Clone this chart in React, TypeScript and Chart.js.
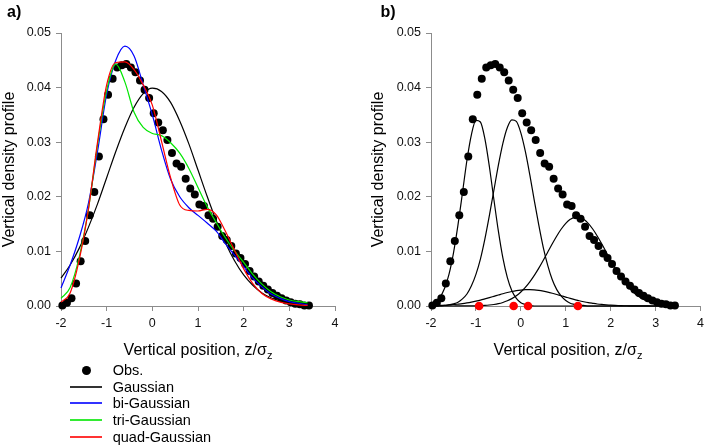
import React, { useEffect, useRef } from "react";
import { Chart, registerables } from "chart.js";

Chart.register(...registerables);

const FONT = '"Liberation Sans", Arial, Helvetica, sans-serif';

// Observations (same in both panels)
const obsX = [-1.97, -1.87, -1.77, -1.67, -1.57, -1.47, -1.37, -1.27, -1.17, -1.07, -0.97, -0.87, -0.77, -0.67, -0.57, -0.47, -0.37, -0.27, -0.17, -0.07, 0.03, 0.13, 0.23, 0.33, 0.43, 0.53, 0.63, 0.73, 0.83, 0.93, 1.03, 1.13, 1.23, 1.33, 1.43, 1.53, 1.63, 1.73, 1.83, 1.93, 2.03, 2.13, 2.23, 2.33, 2.43, 2.53, 2.63, 2.73, 2.83, 2.93, 3.03, 3.13, 3.23, 3.33, 3.43];
const obsY = [0.0001, 0.0006, 0.0014, 0.0041, 0.0082, 0.0119, 0.0166, 0.0209, 0.0274, 0.0342, 0.0387, 0.0416, 0.0437, 0.0441, 0.0443, 0.0437, 0.0428, 0.0413, 0.0396, 0.0381, 0.0353, 0.0336, 0.0322, 0.0304, 0.0280, 0.0261, 0.0255, 0.0233, 0.0215, 0.0204, 0.0186, 0.0183, 0.0166, 0.0160, 0.0145, 0.0128, 0.0121, 0.0110, 0.0096, 0.0088, 0.0077, 0.0064, 0.0054, 0.0045, 0.0037, 0.0030, 0.0024, 0.0019, 0.0014, 0.0010, 0.0007, 0.0004, 0.0003, 0.0001, 0.0001];

// Panel a: fitted curves
const fitX = [-2.0, -1.8, -1.6, -1.4, -1.2, -1.0, -0.8, -0.6, -0.4, -0.2, 0.0, 0.2, 0.4, 0.6, 0.8, 1.0, 1.2, 1.4, 1.6, 1.8, 2.0, 2.2, 2.4, 2.6, 2.8, 3.0, 3.2, 3.4];
const gaussY = [0.0051, 0.0075, 0.0106, 0.0144, 0.0187, 0.0235, 0.0283, 0.0327, 0.0364, 0.0389, 0.0399, 0.0393, 0.0373, 0.0339, 0.0297, 0.0249, 0.0201, 0.0156, 0.0116, 0.0083, 0.0057, 0.0038, 0.0024, 0.0015, 0.0009, 0.0005, 0.0003, 0.0001];
const biGaussY = [0.0033, 0.0075, 0.0125, 0.0188, 0.0283, 0.0388, 0.0450, 0.0476, 0.0458, 0.0405, 0.0350, 0.0286, 0.0232, 0.0200, 0.0180, 0.0166, 0.0152, 0.0137, 0.0114, 0.0093, 0.0072, 0.0051, 0.0035, 0.0022, 0.0014, 0.0008, 0.0005, 0.0002];
const triGaussY = [0.0014, 0.0034, 0.0090, 0.0177, 0.0295, 0.0395, 0.0443, 0.0410, 0.0355, 0.0327, 0.0316, 0.0312, 0.0299, 0.0280, 0.0252, 0.0217, 0.0182, 0.0153, 0.0125, 0.0101, 0.0080, 0.0058, 0.0040, 0.0026, 0.0017, 0.0011, 0.0008, 0.0006];
const quadGaussY = [0.0007, 0.0024, 0.0085, 0.0177, 0.0300, 0.0405, 0.0446, 0.0447, 0.0433, 0.0405, 0.0368, 0.0302, 0.0235, 0.0185, 0.0175, 0.0174, 0.0177, 0.0167, 0.0137, 0.0102, 0.0068, 0.0041, 0.0023, 0.0013, 0.0007, 0.0004, 0.0002, 0.0001];

// Panel b: the four components of the quad-Gaussian fit
const compX = [-2.0, -1.9, -1.8, -1.7, -1.6, -1.5, -1.4, -1.3, -1.2, -1.1, -1.0, -0.9, -0.8, -0.7, -0.6, -0.5, -0.4, -0.3, -0.2, -0.1, 0.0, 0.1, 0.2, 0.3, 0.4, 0.5, 0.6, 0.7, 0.8, 0.9, 1.0, 1.1, 1.2, 1.3, 1.4, 1.5, 1.6, 1.7, 1.8, 1.9, 2.0, 2.1, 2.2, 2.3, 2.4, 2.5, 2.6, 2.7, 2.8, 2.9, 3.0, 3.1, 3.2, 3.3, 3.4];
const comp1Y = [0.0003, 0.0008, 0.0016, 0.0032, 0.0058, 0.0097, 0.0148, 0.0207, 0.0267, 0.0314, 0.0340, 0.0337, 0.0306, 0.0255, 0.0195, 0.0137, 0.0088, 0.0052, 0.0028, 0.0014, 0.0006, 0.0003, 0.0001, 0, 0, 0, 0, 0, 0, 0, 0, 0, 0, 0, 0, 0, 0, 0, 0, 0, 0, 0, 0, 0, 0, 0, 0, 0, 0, 0, 0, 0, 0, 0, 0];
const comp2Y = [0, 0, 0, 0.0001, 0.0002, 0.0004, 0.0007, 0.0013, 0.0022, 0.0037, 0.0058, 0.0086, 0.0123, 0.0166, 0.0212, 0.0258, 0.0298, 0.0327, 0.0341, 0.0338, 0.0317, 0.0283, 0.0240, 0.0193, 0.0148, 0.0107, 0.0074, 0.0048, 0.0030, 0.0018, 0.0010, 0.0005, 0.0003, 0.0001, 0.0001, 0, 0, 0, 0, 0, 0, 0, 0, 0, 0, 0, 0, 0, 0, 0, 0, 0, 0, 0, 0];
const comp3Y = [0.00005, 0.00007, 0.0001, 0.00013, 0.00019, 0.00025, 0.00034, 0.00044, 0.00057, 0.00072, 0.00089, 0.00108, 0.0013, 0.00153, 0.00177, 0.00201, 0.00225, 0.00247, 0.00266, 0.00281, 0.00292, 0.00299, 0.003, 0.00296, 0.00286, 0.00272, 0.00255, 0.00234, 0.00211, 0.00187, 0.00163, 0.00139, 0.00117, 0.00096, 0.00078, 0.00062, 0.00049, 0.00037, 0.00028, 0.00021, 0.00015, 0.00011, 0.00008, 0.00005, 0.00004, 0.00003, 0.00002, 0.00001, 0.00001, 0, 0, 0, 0, 0, 0];
const comp4Y = [0, 0, 0, 0, 0, 0, 0.00001, 0.00001, 0.00002, 0.00003, 0.00004, 0.00007, 0.00011, 0.00018, 0.00028, 0.00043, 0.00065, 0.00095, 0.00135, 0.00189, 0.00257, 0.00341, 0.00442, 0.0056, 0.00693, 0.00838, 0.00989, 0.0114, 0.01283, 0.0141, 0.01514, 0.01587, 0.01625, 0.01625, 0.01587, 0.01514, 0.0141, 0.01283, 0.0114, 0.00989, 0.00838, 0.00693, 0.0056, 0.00442, 0.00341, 0.00257, 0.00189, 0.00135, 0.00095, 0.00065, 0.00043, 0.00028, 0.00018, 0.00011, 0.00007];
const meanX = [-0.93, -0.16, 0.16, 1.27];
const meanY = [0, 0, 0, 0];

// Axes
const xTicks = [-2, -1, 0, 1, 2, 3, 4];
const yTicks = [0, 0.01, 0.02, 0.03, 0.04, 0.05];

const legendItems = [
  { label: "Gaussian", color: "#000000" },
  { label: "bi-Gaussian", color: "#0000ff" },
  { label: "tri-Gaussian", color: "#00e600" },
  { label: "quad-Gaussian", color: "#ff0000" },
];

const pts = (xs: number[], ys: number[]) => xs.map((x, i) => ({ x, y: ys[i] }));

const lineDs = (data: any, color: string, order: number) => ({
  data,
  borderColor: color,
  backgroundColor: color,
  borderWidth: 1.2,
  pointRadius: 0,
  pointHoverRadius: 0,
  showLine: true,
  fill: false,
  cubicInterpolationMode: "monotone" as const,
  clip: false as any,
  order,
});

const dotDs = (data: any, color: string, r: number, order: number) => ({
  data,
  borderColor: color,
  backgroundColor: color,
  pointBackgroundColor: color,
  pointBorderColor: color,
  pointBorderWidth: 0,
  pointRadius: r,
  pointHoverRadius: r,
  showLine: false,
  clip: false as any,
  order,
});

function makeOptions(yWidth: number, padRight: number, titlePad: number): any {
  const gray = "#8c8c8c";
  return {
    animation: false,
    responsive: false,
    maintainAspectRatio: false,
    events: [],
    layout: { padding: { left: 0, right: padRight, top: 33, bottom: 100 } },
    plugins: { legend: { display: false }, tooltip: { enabled: false }, title: { display: false } },
    scales: {
      x: {
        type: "linear",
        min: xTicks[0],
        max: xTicks[xTicks.length - 1],
        afterBuildTicks: (s: any) => {
          s.ticks = xTicks.map((v) => ({ value: v }));
        },
        afterFit: (s: any) => {
          s.height = 40;
        },
        grid: { drawOnChartArea: false, drawTicks: true, tickLength: 5, color: gray, lineWidth: 1 },
        border: { display: true, color: gray, width: 1 },
        ticks: {
          autoSkip: false,
          maxRotation: 0,
          padding: 5,
          color: "#111",
          font: { family: FONT, size: 12.5 },
          callback: (v: any) => String(v),
        },
      },
      y: {
        type: "linear",
        min: yTicks[0],
        max: yTicks[yTicks.length - 1],
        afterBuildTicks: (s: any) => {
          s.ticks = yTicks.map((v) => ({ value: v }));
        },
        afterFit: (s: any) => {
          s.width = yWidth;
        },
        grid: { drawOnChartArea: false, drawTicks: true, tickLength: 5, color: gray, lineWidth: 1 },
        border: { display: true, color: gray, width: 1 },
        ticks: {
          padding: 5,
          color: "#111",
          font: { family: FONT, size: 12.5 },
          callback: (v: any) => Number(v).toFixed(2),
        },
        title: {
          display: true,
          text: "Vertical density profile",
          color: "#000",
          font: { family: FONT, size: 16 },
          padding: { top: titlePad, bottom: 0 },
        },
      },
    },
  };
}

function PanelCanvas({ left, width, yWidth, padRight, titlePad, build }: any) {
  const ref = useRef<HTMLCanvasElement | null>(null);
  useEffect(() => {
    if (!ref.current) return;
    const chart = new Chart(ref.current, {
      type: "line",
      data: { datasets: build() },
      options: makeOptions(yWidth, padRight, titlePad),
    } as any);
    return () => chart.destroy();
  }, []);
  return (
    <canvas
      ref={ref}
      width={width}
      height={446}
      style={{ position: "absolute", left, top: 0, width, height: 446 }}
    />
  );
}

const buildA = () => [
  lineDs(pts(fitX, quadGaussY), "#ff0000", 1),
  lineDs(pts(fitX, triGaussY), "#00e600", 2),
  lineDs(pts(fitX, biGaussY), "#0000ff", 3),
  lineDs(pts(fitX, gaussY), "#000000", 4),
  dotDs(pts(obsX, obsY), "#000000", 4, 5),
];

const buildB = () => [
  dotDs(pts(meanX, meanY), "#ff0000", 4.3, 1),
  lineDs(pts(compX, comp1Y), "#000000", 2),
  lineDs(pts(compX, comp2Y), "#000000", 3),
  lineDs(pts(compX, comp3Y), "#000000", 4),
  lineDs(pts(compX, comp4Y), "#000000", 5),
  dotDs(pts(obsX, obsY), "#000000", 4, 6),
];

function XTitle({ left }: { left: number }) {
  return (
    <div
      style={{
        position: "absolute",
        left,
        top: 341.5,
        width: 274,
        textAlign: "center",
        fontFamily: FONT,
        fontSize: 16,
        lineHeight: "16px",
        color: "#000",
        whiteSpace: "nowrap",
      }}
    >
      Vertical position, z/σ
      <span style={{ fontSize: 11, position: "relative", top: 4 }}>z</span>
    </div>
  );
}

export default function App() {
  useEffect(() => {
    document.body.style.margin = "0";
  }, []);
  return (
    <div style={{ position: "relative", width: 709, height: 446, background: "#fff", overflow: "hidden" }}>
      <PanelCanvas left={0} width={355} yWidth={61} padRight={20} titlePad={0} build={buildA} />
      <PanelCanvas left={355} width={354} yWidth={76} padRight={4} titlePad={14} build={buildB} />
      <div style={{ position: "absolute", left: 7, top: 3.5, fontFamily: FONT, fontWeight: "bold", fontSize: 16, lineHeight: "16px" }}>a)</div>
      <div style={{ position: "absolute", left: 380.5, top: 3.5, fontFamily: FONT, fontWeight: "bold", fontSize: 16, lineHeight: "16px" }}>b)</div>
      <XTitle left={61} />
      <XTitle left={431} />
      {/* legend for panel a */}
      <div style={{ position: "absolute", left: 82.3, top: 365.8, width: 9, height: 9, borderRadius: "50%", background: "#000" }} />
      <div style={{ position: "absolute", left: 112.7, top: 363.2, fontFamily: FONT, fontSize: 14.5, lineHeight: "14.5px", whiteSpace: "nowrap" }}>Obs.</div>
      {legendItems.map((it, i) => (
        <React.Fragment key={it.label}>
          <div
            style={{
              position: "absolute",
              left: 70,
              top: 385.7 + i * 16.67,
              width: 32,
              height: 2,
              background: it.color,
              opacity: 0.8,
            }}
          />
          <div
            style={{
              position: "absolute",
              left: 112.7,
              top: 379.5 + i * 16.67,
              fontFamily: FONT,
              fontSize: 14.5,
              lineHeight: "14.5px",
              whiteSpace: "nowrap",
            }}
          >
            {it.label}
          </div>
        </React.Fragment>
      ))}
    </div>
  );
}
